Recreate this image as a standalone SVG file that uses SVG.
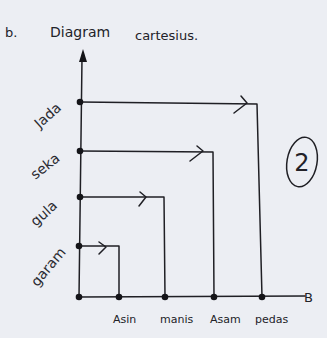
<svg xmlns="http://www.w3.org/2000/svg" width="327" height="338" viewBox="0 0 327 338">
<style>
.ln{stroke:#1f1f24;stroke-width:1.5;fill:none;stroke-linecap:round;stroke-linejoin:round}
.dot{fill:#141418}
.t{font-family:"DejaVu Sans","Liberation Sans",sans-serif;fill:#222228}
.yl{font-family:"DejaVu Sans","Liberation Sans",sans-serif;fill:#2a2a30;font-size:14px;text-anchor:middle}
.xl{font-family:"DejaVu Sans","Liberation Sans",sans-serif;fill:#222228;font-size:11px}
</style>
<rect x="0" y="0" width="327" height="338" fill="#eceef3"/>
<text class="t" x="5" y="37" style="font-size:13px">b.</text>
<text class="t" x="50" y="37" style="font-size:14px">Diagram</text>
<text class="t" x="135" y="40" style="font-size:13px">cartesius.</text>
<g id="axes">
<path class="ln" d="M82 58 L79 297 L305 296"/>
<path class="dot" d="M83 49 L87 62 L79 62 Z"/>
<text class="t" x="304" y="302" style="font-size:13px">B</text>
</g>
<g id="connectors">
<path class="ln" d="M80 102 L257 104 L262 297"/>
<path class="ln" d="M80 151 L213 152 L214 297"/>
<path class="ln" d="M80 197 L164 197 L165 297"/>
<path class="ln" d="M80 246 L119 246 L119 297"/>
<path class="ln" d="M241 96 L247 103 L234 113"/>
<path class="ln" d="M197 146 L203 151 L190 161"/>
<path class="ln" d="M140 192 L146 197 L139 206"/>
<path class="ln" d="M99 242 L106 247 L99 254"/>
</g>
<g id="jada"><circle class="dot" cx="80" cy="102" r="3.3"/><text class="yl" transform="translate(51,119) rotate(-42)">Jada</text></g>
<g id="seka"><circle class="dot" cx="80" cy="151" r="3.3"/><text class="yl" transform="translate(48,170) rotate(-38)">seka</text></g>
<g id="gula"><circle class="dot" cx="80" cy="197" r="3.3"/><text class="yl" transform="translate(47,217) rotate(-42)">gula</text></g>
<g id="garam"><circle class="dot" cx="79" cy="246" r="3.3"/><text class="yl" transform="translate(52,270) rotate(-50)">garam</text></g>
<g id="origin"><circle class="dot" cx="79" cy="297" r="3.3"/></g>
<g id="asin"><circle class="dot" cx="119" cy="297" r="3.3"/><text class="xl" x="113" y="323">Asin</text></g>
<g id="manis"><circle class="dot" cx="165" cy="297" r="3.3"/><text class="xl" x="160" y="323">manis</text></g>
<g id="asam"><circle class="dot" cx="214" cy="297" r="3.3"/><text class="xl" x="210" y="323">Asam</text></g>
<g id="pedas"><circle class="dot" cx="262" cy="297" r="3.3"/><text class="xl" x="255" y="323">pedas</text></g>
<g id="mark">
<ellipse class="ln" cx="302" cy="162" rx="15" ry="25" transform="rotate(10 302 162)"/>
<text class="t" x="302" y="171" text-anchor="middle" style="font-size:24px">2</text>
</g>
</svg>
